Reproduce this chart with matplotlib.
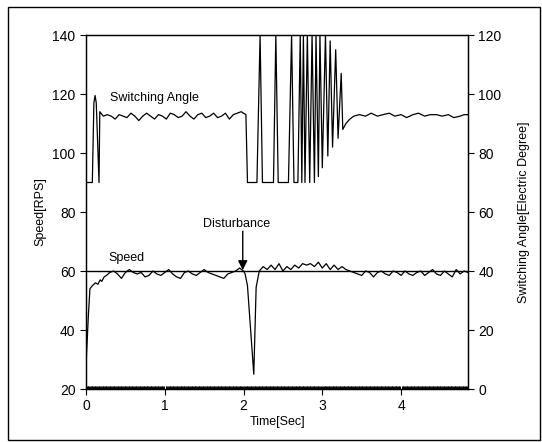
import numpy as np
import matplotlib.pyplot as plt
from matplotlib.patches import Rectangle

# speed [RPS] vs time [s]
speed_t = [0.00, 0.03, 0.05, 0.08, 0.10, 0.12, 0.15, 0.18, 0.20, 0.23, 0.26,
           0.30, 0.35, 0.40, 0.45, 0.50, 0.55, 0.60, 0.65, 0.70, 0.75, 0.80,
           0.85, 0.90, 0.95, 1.00, 1.05, 1.10, 1.15, 1.20, 1.25, 1.30, 1.35,
           1.40, 1.45, 1.50, 1.55, 1.60, 1.65, 1.70, 1.75, 1.80, 1.85, 1.90,
           1.95, 2.00, 2.02, 2.05, 2.13, 2.16, 2.20, 2.25, 2.30, 2.35, 2.40,
           2.45, 2.50, 2.55, 2.60, 2.65, 2.70, 2.75, 2.80, 2.85, 2.90, 2.95,
           3.00, 3.05, 3.10, 3.15, 3.20, 3.25, 3.30, 3.35, 3.40, 3.45, 3.50,
           3.55, 3.60, 3.65, 3.70, 3.75, 3.80, 3.85, 3.90, 3.95, 4.00, 4.05,
           4.10, 4.15, 4.20, 4.25, 4.30, 4.35, 4.40, 4.45, 4.50, 4.55, 4.60,
           4.65, 4.70, 4.75, 4.80, 4.85]
speed_v = [28, 45, 54, 55, 55.5, 56, 55.5, 57, 56.5, 58, 58.5,
           59.5, 60, 59, 57.5, 59.5, 60.5, 59.5, 59, 59.5, 58, 58.5,
           60, 59, 58.5, 59.5, 60.5, 59, 58, 57.5, 59.5, 60, 59,
           58.5, 59.5, 60.5, 59.5, 59, 58.5, 58, 57.5, 59, 59.5, 60,
           61, 60, 59, 55, 25, 54.5, 60, 61.5, 60.5, 62, 60.5,
           62.5, 60, 61.5, 60.5, 62, 61, 62.5, 62, 62.5, 61.5, 63,
           61, 62.5, 60.5, 62, 60.5, 61.5, 60.5, 60, 59.5, 59, 58.5,
           60, 59.5, 58, 59.5, 60, 59, 58.5, 60, 59.5, 58.5, 60,
           59, 58.5, 59.5, 60, 58.5, 59.5, 60.5, 59, 58.5, 60, 59,
           58, 60.5, 59, 60, 59.5]

speed_ref = 60

# switching angle [electric degree] vs time [s]
angle_t = [0.00, 0.08, 0.10, 0.115, 0.13, 0.165, 0.175, 0.22, 0.27, 0.32,
           0.37, 0.42, 0.47, 0.52, 0.57, 0.62, 0.67, 0.72, 0.77, 0.82, 0.87,
           0.92, 0.97, 1.02, 1.07, 1.12, 1.17, 1.22, 1.27, 1.32, 1.37, 1.42,
           1.47, 1.52, 1.57, 1.62, 1.67, 1.72, 1.77, 1.82, 1.87, 1.92, 1.97,
           2.03, 2.05, 2.17, 2.21, 2.24, 2.38, 2.41, 2.44, 2.57, 2.61, 2.64,
           2.69, 2.72, 2.74, 2.76, 2.78, 2.81, 2.84, 2.87, 2.90, 2.92, 2.95,
           2.97, 3.00, 3.04, 3.07, 3.10, 3.13, 3.17, 3.20, 3.24, 3.26, 3.30,
           3.35, 3.40, 3.47, 3.55, 3.62, 3.70, 3.77, 3.85, 3.92, 4.00, 4.07,
           4.15, 4.22, 4.30, 4.37, 4.45, 4.52, 4.60, 4.67, 4.75, 4.80, 4.85]
angle_v = [70, 70, 97, 99.5, 97, 70, 94, 92.5, 93, 92.5,
           91.5, 93, 92.5, 92, 93.5, 92.5, 91, 92.5, 93.5, 92.5, 91.5,
           93, 92.5, 91.5, 93.5, 93, 92, 92.5, 94, 92.5, 91.5, 93,
           93.5, 92, 92.5, 93.5, 92, 92.5, 93.5, 91.5, 93, 93.5, 94,
           93, 70, 70, 120, 70, 70, 120, 70, 70, 120, 70,
           70, 120, 70, 120, 70, 120, 70, 120, 70, 120, 72,
           120, 75, 120, 79, 118, 82, 115, 85, 107, 88, 90,
           91.5, 92.5, 93, 92.5, 93.5, 92.5, 93, 93.5, 92.5, 93, 92,
           93, 93.5, 92.5, 93, 93, 92.5, 93, 92, 92.5, 93, 93]

xticks = [0, 1, 2, 3, 4]
speed_ticks = [20, 40, 60, 80, 100, 120, 140]
angle_ticks = [0, 20, 40, 60, 80, 100, 120]

plt.rcParams['font.family'] = ['Liberation Sans', 'DejaVu Sans']
plt.rcParams['font.size'] = 9

fig = plt.figure(figsize=(5.42, 4.42), dpi=100)
ax = fig.add_axes([0.1587, 0.1199, 0.7048, 0.8009])
ax2 = ax.twinx()

ax.plot(speed_t, speed_v, color='black', lw=0.9)
ax.axhline(speed_ref, color='black', lw=1.0)
ax2.plot(angle_t, angle_v, color='black', lw=0.9)

ax.set_xlim(0, 4.85)
ax.set_ylim(20, 140)
ax2.set_ylim(0, 120)
ax.set_xticks(xticks)
ax.set_yticks(speed_ticks)
ax2.set_yticks(angle_ticks)
ax.set_xticks(np.arange(0, 4.85, 0.01), minor=True)
ax.tick_params(axis='x', which='minor', direction='in', length=2.5, width=0.7)
ax.tick_params(axis='both', which='major', length=4, width=0.8, labelsize=10)
ax2.tick_params(axis='y', length=4, width=0.8, labelsize=10)

ax.set_xlabel('Time[Sec]', fontsize=9, labelpad=2)
ax.set_ylabel('Speed[RPS]', fontsize=9, labelpad=4)
ax2.set_ylabel('Switching Angle[Electric Degree]', fontsize=9, labelpad=12)

ax.text(0.30, 118.5, 'Switching Angle', fontsize=9, va='center')
ax.text(0.28, 64.5, 'Speed', fontsize=9, va='center')
ax.text(1.48, 76, 'Disturbance', fontsize=9, va='center')
ax.annotate('', xy=(1.99, 60.3), xytext=(1.99, 73.5),
            arrowprops=dict(arrowstyle='-|>', color='black', lw=1.0,
                            mutation_scale=14, shrinkA=0, shrinkB=0))

for s in list(ax.spines.values()) + list(ax2.spines.values()):
    s.set_linewidth(0.9)

fig.add_artist(Rectangle((0.015, 0.005), 0.982, 0.979, transform=fig.transFigure,
                         fill=False, edgecolor='black', lw=1.0))

fig.savefig('out.png', dpi=100)
